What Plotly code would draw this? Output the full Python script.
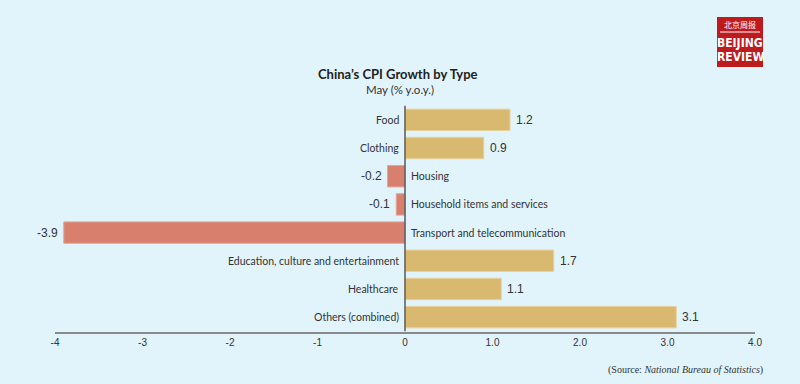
import plotly.graph_objects as go

categories = ["Food", "Clothing", "Housing", "Household items and services",
              "Transport and telecommunication", "Education, culture and entertainment",
              "Healthcare", "Others (combined)"]
values = [1.2, 0.9, -0.2, -0.1, -3.9, 1.7, 1.1, 3.1]
value_labels = ["1.2", "0.9", "-0.2", "-0.1", "-3.9", "1.7", "1.1", "3.1"]
tick_vals = [-4, -3, -2, -1, 0, 1, 2, 3, 4]
tick_text = ["-4", "-3", "-2", "-1", "0", "1.0", "2.0", "3.0", "4.0"]

POS = "#D9B86F"
NEG = "#D8806D"
POS_EDGE = "#E9D199"
NEG_EDGE = "#E6A495"
BG = "#E1F3FB"
TXT = "#333333"
FONT = "Lato"
VFONT = "Liberation Sans"

W, H = 800, 384
L, R, T, B = 55, 45, 105, 52

fig = go.Figure()
fig.add_trace(go.Bar(
    y=categories, x=values, orientation="h",
    marker=dict(color=[POS if v >= 0 else NEG for v in values],
                line=dict(width=1, color=[POS_EDGE if v >= 0 else NEG_EDGE for v in values])),
    width=0.76, hoverinfo="skip",
))

anns = []
for c, v, lab in zip(categories, values, value_labels):
    if v >= 0:
        anns.append(dict(x=0, y=c, xref="x", yref="y", text=c, showarrow=False,
                         xanchor="right", xshift=-4, font=dict(size=10.5, color=TXT, family=FONT)))
        anns.append(dict(x=v, y=c, xref="x", yref="y", text=lab, showarrow=False,
                         xanchor="left", xshift=4, font=dict(size=12, color=TXT, family=VFONT)))
    else:
        anns.append(dict(x=0, y=c, xref="x", yref="y", text=c, showarrow=False,
                         xanchor="left", xshift=4, font=dict(size=10.5, color=TXT, family=FONT)))
        anns.append(dict(x=v, y=c, xref="x", yref="y", text=lab, showarrow=False,
                         xanchor="right", xshift=-4, font=dict(size=12, color=TXT, family=VFONT)))

def px_x(p):
    return (p - L) / (W - L - R)

def px_y(p):
    return (H - B - p) / (H - T - B)

# titles
anns.append(dict(x=px_x(398), y=px_y(74), xref="paper", yref="paper", showarrow=False,
                 text="<b>China’s CPI Growth by Type</b>", xanchor="center", yanchor="middle",
                 font=dict(size=13, color="#222222", family=FONT)))
anns.append(dict(x=px_x(400), y=px_y(90), xref="paper", yref="paper", showarrow=False,
                 text="May (% y.o.y.)", xanchor="center", yanchor="middle",
                 font=dict(size=11.5, color="#333333", family=FONT)))
anns.append(dict(x=px_x(765), y=px_y(370), xref="paper", yref="paper", showarrow=False,
                 text="(Source: <i>National Bureau of Statistics</i>)", xanchor="right", yanchor="middle",
                 font=dict(size=10, color="#333333", family="Liberation Serif")))

# logo
shapes = [
    dict(type="rect", xref="paper", yref="paper", x0=px_x(717), x1=px_x(763),
         y0=px_y(67), y1=px_y(17), fillcolor="#BE1B1F", line=dict(width=0), layer="above"),
    dict(type="line", xref="paper", yref="paper", x0=px_x(720), x1=px_x(760),
         y0=px_y(32), y1=px_y(32), line=dict(color="white", width=1), layer="above"),
    dict(type="line", xref="x", yref="y", x0=0, x1=0, y0=-0.5, y1=7.5,
         line=dict(color="#5A5A5A", width=1.5), layer="above"),
]
anns.append(dict(x=px_x(740), y=px_y(25), xref="paper", yref="paper", showarrow=False,
                 text="北京周报", xanchor="center", yanchor="middle",
                 font=dict(size=8, color="white", family="Noto Sans CJK SC")))
anns.append(dict(x=px_x(740), y=px_y(43), xref="paper", yref="paper", showarrow=False,
                 text="<b>BEIJING</b>", xanchor="center", yanchor="middle",
                 font=dict(size=12, color="white", family="DejaVu Sans Condensed")))
anns.append(dict(x=px_x(740), y=px_y(57), xref="paper", yref="paper", showarrow=False,
                 text="<b>REVIEW</b>", xanchor="center", yanchor="middle",
                 font=dict(size=12, color="white", family="DejaVu Sans Condensed")))

fig.update_layout(
    width=W, height=H,
    margin=dict(l=L, r=R, t=T, b=B),
    paper_bgcolor=BG, plot_bgcolor=BG,
    showlegend=False,
    annotations=anns, shapes=shapes,
    xaxis=dict(range=[-4, 4], tickvals=tick_vals, ticktext=tick_text, showgrid=False,
               zeroline=False, showline=True, linecolor="#8A8A8A", linewidth=2,
               ticks="", tickfont=dict(size=10, color=TXT, family=VFONT), fixedrange=True),
    yaxis=dict(autorange="reversed", showticklabels=False, showgrid=False, zeroline=False,
               showline=False, ticks="", fixedrange=True),
    bargap=0.2,
)

fig.write_html(
    "out.html",
    config={"displayModeBar": False},
    post_script="document.body.style.margin='0';document.body.style.overflow='hidden';"
                "document.body.style.background='" + BG + "';",
)
